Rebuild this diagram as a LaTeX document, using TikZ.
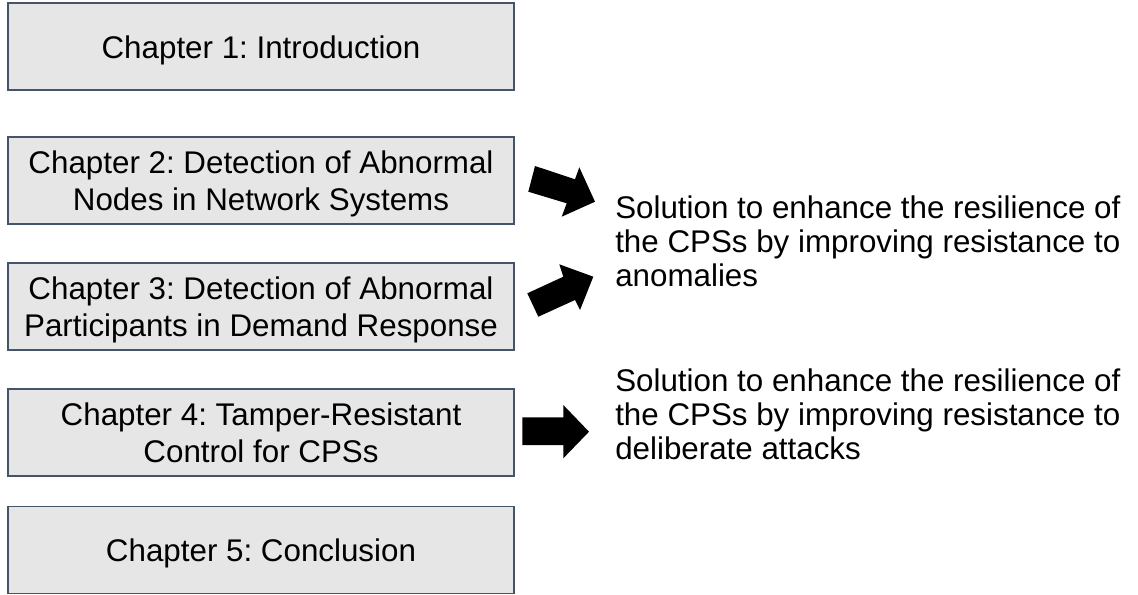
\documentclass[tikz,border=0pt]{standalone}
\usepackage{fontspec}
\setmainfont{Liberation Sans}
\frenchspacing
\definecolor{boxfill}{HTML}{E6E6E6}
\definecolor{boxline}{HTML}{44546A}
\tikzset{
  chapbox/.style={draw=boxline, fill=boxfill, line width=1pt,
    minimum width=379.5pt, minimum height=65.25pt, align=center,
    inner sep=0pt, text depth=0pt, font=\fontsize{23.5}{28}\selectfont},
  blockarrow/.style={fill=black, draw=none},
  soltext/.style={anchor=north west, align=left, inner sep=0pt,
    font=\fontsize{23.5}{25.65}\selectfont}
}
\begin{document}
\begin{tikzpicture}[x=0.75pt,y=-0.75pt]
\useasboundingbox (0,0) rectangle (1138,594);
\node[chapbox] (c1) at (261,46.65) {Chapter 1: Introduction};
\node[chapbox] (c2) at (261,180.35) {Chapter 2: Detection of Abnormal\\Nodes in Network Systems};
\node[chapbox] (c3) at (261,306.35) {Chapter 3: Detection of Abnormal\\Participants in Demand Response};
\node[chapbox] (c4) at (261,432.65) {Chapter 4: Tamper-Resistant\\Control for CPSs};
\node[chapbox] (c5) at (261,550) {Chapter 5: Conclusion};
\node[soltext] (s1) at (615,195.5) {Solution to enhance the resilience of\\the CPSs by improving resistance to\\anomalies};
\node[soltext] (s2) at (615,368.5) {Solution to enhance the resilience of\\the CPSs by improving resistance to\\deliberate attacks};
\fill[blockarrow] (535,166) -- (575,179.3) -- (579.3,167.3) -- (595,201.7) -- (561.7,216.7) -- (566.7,203.3) -- (528.3,191.7) -- cycle;
\fill[blockarrow] (527.3,293.3) -- (563.3,276.7) -- (559.3,264.3) -- (593.3,276.7) -- (580,310) -- (575,300) -- (538.3,316.7) -- cycle;
\fill[blockarrow] (522.3,417.3) -- (563.3,417.3) -- (563.3,405) -- (589,431.7) -- (563.3,458.3) -- (563.3,445) -- (522.3,445) -- cycle;
\end{tikzpicture}
\end{document}
